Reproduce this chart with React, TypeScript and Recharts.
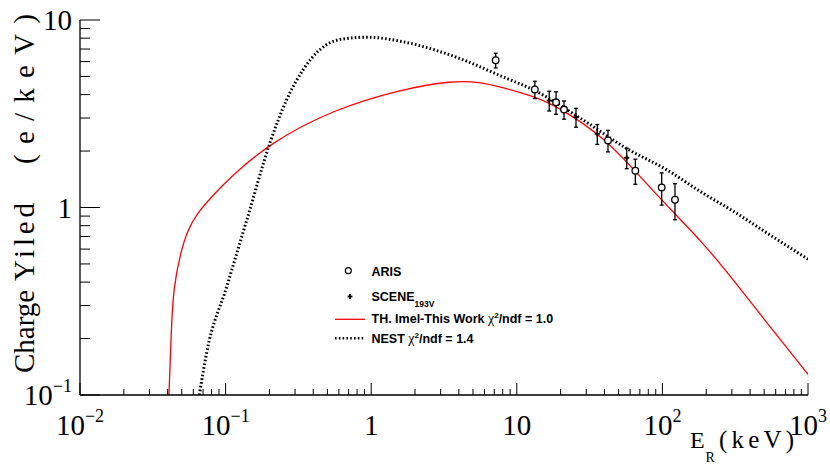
import { ComposedChart, Line, Scatter, ErrorBar, XAxis, YAxis, Legend } from 'recharts';

// TH. Imel-This Work curve (E_R keV, e/keV)
const IMEL_X = [0.0408, 0.0415, 0.0422, 0.0438, 0.0492, 0.0543, 0.0637, 0.0782, 0.107, 0.2017, 0.549, 1.58, 3.66, 5.58, 7.67, 13.3, 20.8, 41.4, 66.5, 132, 181, 307, 520, 1000];
const IMEL_Y = [0.1, 0.14, 0.205, 0.379, 0.575, 0.745, 0.929, 1.117, 1.445, 2.21, 3.33, 4.26, 4.76, 4.66, 4.4, 3.92, 3.33, 2.3, 1.53, 0.863, 0.675, 0.413, 0.243, 0.129];

// NEST curve
const NEST_X = [0.066, 0.0741, 0.102, 0.14, 0.2017, 0.263, 0.342, 0.445, 0.611, 0.932, 1.58, 2.67, 4.53, 7.67, 13.3, 27.2, 58.3, 107, 181, 307, 520, 1000];
const NEST_Y = [0.1, 0.168, 0.38, 0.86, 2.21, 3.77, 5.45, 6.96, 7.87, 8.1, 7.71, 6.96, 6.03, 5.05, 4.2, 3.0, 2.04, 1.59, 1.22, 0.955, 0.733, 0.53];

// ARIS points
const ARIS_X = [7.16, 13.3, 18.6, 21.1, 42.3, 65.2, 98.9, 122];
const ARIS_Y = [6.1, 4.26, 3.64, 3.33, 2.28, 1.57, 1.28, 1.1];
const ARIS_ERR = [0.55, 0.45, 0.5, 0.37, 0.3, 0.24, 0.25, 0.24];

// SCENE 193V points
const SCENE_X = [16.7, 25.5, 35.7, 56.9];
const SCENE_Y = [3.72, 3.03, 2.47, 1.84];
const SCENE_ERR = [0.45, 0.35, 0.3, 0.23];

const X_MAJOR = [0.01, 0.1, 1, 10, 100, 1000];
const X_LABELS = [['10', '−2'], ['10', '−1'], ['1', ''], ['10', ''], ['10', '2'], ['10', '3']];
const Y_MAJOR = [0.1, 1, 10];
const Y_LABELS = [['10', '−1'], ['1', ''], ['10', '']];
const MINOR = [2, 3, 4, 5, 6, 7, 8, 9];

const SERIF = '"Liberation Serif", "Times New Roman", serif';
const SANS = '"Liberation Sans", Arial, Helvetica, sans-serif';

const withMinor = (majors: number[]) => {
  const out: number[] = [...majors];
  majors.slice(0, -1).forEach((m) => MINOR.forEach((k) => out.push(m * k)));
  return out.sort((a, b) => a - b);
};

const X_TICKS = withMinor(X_MAJOR);
const Y_TICKS = withMinor(Y_MAJOR);

const imel = IMEL_X.map((x, i) => ({ x, y: IMEL_Y[i] }));
const nest = NEST_X.map((x, i) => ({ x, y: NEST_Y[i] }));
const aris = ARIS_X.map((x, i) => ({ x, y: ARIS_Y[i], err: ARIS_ERR[i] }));
const scene = SCENE_X.map((x, i) => ({ x, y: SCENE_Y[i], err: SCENE_ERR[i] }));

function XTick(props: any) {
  const { x, y, payload } = props;
  const i = X_MAJOR.indexOf(payload.value);
  if (i < 0) return <line x1={x} x2={x} y1={y} y2={y - 6} stroke="#000" strokeWidth={1} />;
  const [base, exp] = X_LABELS[i];
  return (
    <g>
      <line x1={x} x2={x} y1={y} y2={y - 12} stroke="#000" strokeWidth={1} />
      <text x={x} y={y + 40} textAnchor="middle" fontFamily={SERIF} fontSize={29} fill="#000">
        {base}
        {exp && (
          <tspan dy={-13} fontSize={18}>
            {exp}
          </tspan>
        )}
      </text>
    </g>
  );
}

function YTick(props: any) {
  const { x, y, payload } = props;
  const i = Y_MAJOR.indexOf(payload.value);
  if (i < 0) return <line x1={x} x2={x + 10} y1={y} y2={y} stroke="#000" strokeWidth={1} />;
  const [base, exp] = Y_LABELS[i];
  return (
    <g>
      <line x1={x} x2={x + 20} y1={y} y2={y} stroke="#000" strokeWidth={1} />
      <text x={x - 8} y={y + 10} textAnchor="end" fontFamily={SERIF} fontSize={29} fill="#000">
        {base}
        {exp && (
          <tspan dy={-13} fontSize={18}>
            {exp}
          </tspan>
        )}
      </text>
    </g>
  );
}

const OpenCircle = (p: any) => (
  <circle cx={p.cx} cy={p.cy} r={3.3} fill="#fff" stroke="#000" strokeWidth={1.3} />
);

const Plus = (p: any) => (
  <g stroke="#000" strokeWidth={1.8}>
    <line x1={p.cx - 2.6} x2={p.cx + 2.6} y1={p.cy} y2={p.cy} />
    <line x1={p.cx} x2={p.cx} y1={p.cy - 2.6} y2={p.cy + 2.6} />
  </g>
);

function LegendBox() {
  const txt = { fontFamily: SANS, fontWeight: 700, fontSize: 12.5, fill: '#000' } as const;
  return (
    <svg width={270} height={100} style={{ display: 'block' }}>
      <circle cx={28.3} cy={15.7} r={3} fill="#fff" stroke="#000" strokeWidth={1.2} />
      <text x={51.5} y={20.5} {...txt}>ARIS</text>

      <g stroke="#000" strokeWidth={1.8}>
        <line x1={27.6} x2={32.4} y1={41.5} y2={41.5} />
        <line x1={30} x2={30} y1={39.1} y2={43.9} />
      </g>
      <text x={51.5} y={45.5} {...txt}>
        SCENE
        <tspan dy={6.5} fontSize={8.5}>193V</tspan>
      </text>

      <line x1={15} x2={45} y1={64.3} y2={64.3} stroke="#ff0000" strokeWidth={1.3} />
      <text x={51.5} y={67.5} {...txt}>
        {'TH. Imel-This Work  '}
        <tspan fontFamily={SERIF} fontWeight={400} fontSize={14}>χ</tspan>
        <tspan dy={-5} fontSize={8}>2</tspan>
        <tspan dy={5}>/ndf = 1.0</tspan>
      </text>

      <line x1={15} x2={45} y1={83.3} y2={83.3} stroke="#000" strokeWidth={2.5} strokeDasharray="1.6 2.2" />
      <text x={51.5} y={88} {...txt}>
        {'NEST  '}
        <tspan fontFamily={SERIF} fontWeight={400} fontSize={14}>χ</tspan>
        <tspan dy={-5} fontSize={8}>2</tspan>
        <tspan dy={5}>/ndf = 1.4</tspan>
      </text>
    </svg>
  );
}

const YTitle = () => (
  <g fontFamily={SERIF} fontSize={29} fill="#000">
    <text x={34} y={373} transform="rotate(-90, 34, 373)">Charge</text>
    <text x={34} y={281} transform="rotate(-90, 34, 281)" textLength={78} lengthAdjust="spacing">
      Yiled
    </text>
    <text x={34} y={164} transform="rotate(-90, 34, 164)" textLength={150} lengthAdjust="spacing">
      (e/keV)
    </text>
  </g>
);

const XTitle = () => (
  <g fontFamily={SERIF} fill="#000">
    <text x={690} y={448} fontSize={24}>E</text>
    <text x={705.5} y={461.5} fontSize={14}>R</text>
    <text x={719} y={448} fontSize={25} textLength={75} lengthAdjust="spacing">(keV)</text>
  </g>
);

export default function App() {
  return (
    <div style={{ position: 'absolute', left: 0, top: 0, width: 830, height: 464, background: '#fff' }}>
      <ComposedChart width={830} height={464} margin={{ top: 20, right: 22, bottom: 0, left: 0 }}>
        <XAxis
          dataKey="x"
          type="number"
          scale="log"
          domain={[0.01, 1000]}
          allowDataOverflow
          ticks={X_TICKS}
          interval={0}
          tick={<XTick />}
          tickLine={false}
          tickSize={0}
          tickMargin={0}
          height={69}
          axisLine={{ stroke: '#000', strokeWidth: 1.3 }}
          label={<XTitle />}
        />
        <XAxis
          xAxisId="top"
          orientation="top"
          type="number"
          scale="log"
          domain={[0.01, 1000]}
          tick={false}
          tickLine={false}
          height={0}
          axisLine={{ stroke: '#000', strokeWidth: 1.3 }}
        />
        <YAxis
          type="number"
          scale="log"
          domain={[0.1, 10]}
          allowDataOverflow
          ticks={Y_TICKS}
          interval={0}
          tick={<YTick />}
          tickLine={false}
          tickSize={0}
          tickMargin={0}
          width={80}
          axisLine={{ stroke: '#000', strokeWidth: 1.3 }}
          label={<YTitle />}
        />
        <YAxis
          yAxisId="right"
          orientation="right"
          type="number"
          scale="log"
          domain={[0.1, 10]}
          tick={false}
          tickLine={false}
          width={0}
          axisLine={{ stroke: '#000', strokeWidth: 1.3 }}
        />
        <Line
          data={imel}
          dataKey="y"
          type="basis"
          stroke="#ff0000"
          strokeWidth={1.3}
          dot={false}
          isAnimationActive={false}
        />
        <Line
          data={nest}
          dataKey="y"
          type="monotone"
          stroke="#000"
          strokeWidth={3}
          strokeDasharray="1.6 2.2"
          dot={false}
          isAnimationActive={false}
        />
        <Scatter data={aris} dataKey="y" shape={OpenCircle} isAnimationActive={false}>
          <ErrorBar dataKey="err" direction="y" width={2} stroke="#000" strokeWidth={1.3} />
        </Scatter>
        <Scatter data={scene} dataKey="y" shape={Plus} isAnimationActive={false}>
          <ErrorBar dataKey="err" direction="y" width={2} stroke="#000" strokeWidth={1.3} />
        </Scatter>
        <Legend
          layout="vertical"
          align="center"
          verticalAlign="middle"
          content={<LegendBox />}
          wrapperStyle={{ position: 'absolute', left: 320, top: 255, width: 270 }}
        />
      </ComposedChart>
    </div>
  );
}
